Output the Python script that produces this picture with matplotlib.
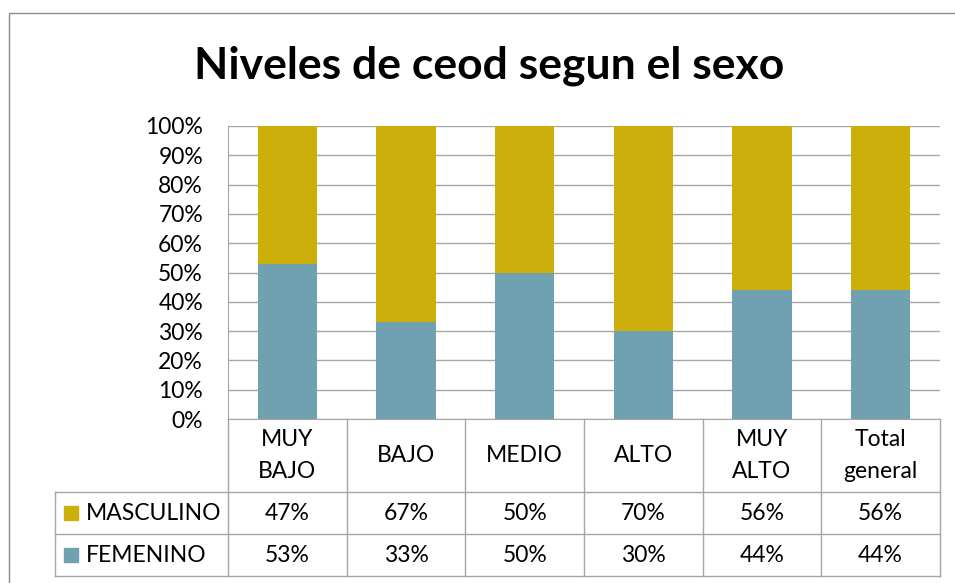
import matplotlib.pyplot as plt
from matplotlib.patches import Rectangle
from matplotlib.lines import Line2D
from matplotlib.transforms import blended_transform_factory

plt.rcParams['font.family'] = ['Lato', 'DejaVu Sans']

categories = ["MUY\nBAJO", "BAJO", "MEDIO", "ALTO", "MUY\nALTO", "Total\ngeneral"]
femenino = [53, 33, 50, 30, 44, 44]
masculino = [47, 67, 50, 70, 56, 56]
y_ticks = [0, 10, 20, 30, 40, 50, 60, 70, 80, 90, 100]

color_masc = "#CCAF0A"
color_fem = "#6FA1B0"
grid_color = "#A6A6A6"

W, H = 955, 583
fig = plt.figure(figsize=(W / 100, H / 100), dpi=100)

def fx(px):
    return px / W

def fy(py):
    return 1 - py / H

# chart frame
fig.add_artist(Rectangle((fx(9), fy(600)), fx(960), fy(13) - fy(600),
                         transform=fig.transFigure, fill=False, edgecolor="#8C8C8C", lw=1))

ax = fig.add_axes([fx(228), fy(419), fx(940) - fx(228), fy(126) - fy(419)])
x = range(len(categories))
ax.bar(x, femenino, width=0.5, color=color_fem, zorder=3)
ax.bar(x, masculino, width=0.5, bottom=femenino, color=color_masc, zorder=3)
ax.set_xlim(-0.5, len(categories) - 0.5)
ax.set_ylim(0, 100)
ax.set_yticks(y_ticks)
ax.set_yticklabels([f"{t}%" for t in y_ticks], fontsize=16.5)
ax.set_xticks([])
ax.tick_params(axis="y", length=0, pad=18)
ax.grid(axis="y", color=grid_color, lw=1, zorder=0)
for s in ["top", "right"]:
    ax.spines[s].set_visible(False)
ax.spines["left"].set_color(grid_color)
ax.spines["bottom"].set_color(grid_color)

fig.text(fx(489), fy(66), "Niveles de ceod segun el sexo", ha="center", va="center",
         fontsize=32, fontweight="bold")

# data table
tr = blended_transform_factory(ax.transData, fig.transFigure)
n = len(categories)
row_top, row1, row2, row3 = 419, 492, 534, 576
for i in range(n + 1):
    fig.add_artist(Line2D([i - 0.5, i - 0.5], [fy(row_top), fy(row3)], transform=tr,
                          color=grid_color, lw=1))
for yy in (row1, row2, row3):
    fig.add_artist(Line2D([fx(55), fx(940)], [fy(yy), fy(yy)], transform=fig.transFigure,
                          color=grid_color, lw=1))
fig.add_artist(Line2D([fx(55), fx(55)], [fy(row1), fy(row3)], transform=fig.transFigure,
                      color=grid_color, lw=1))

fs = 16.5
for i, cat in enumerate(categories):
    fig.text(i, fy((row_top + row1) / 2), cat, transform=tr, ha="center", va="center",
             fontsize=fs, linespacing=1.6)
    fig.text(i, fy((row1 + row2) / 2), f"{masculino[i]}%", transform=tr, ha="center",
             va="center", fontsize=fs)
    fig.text(i, fy((row2 + row3) / 2), f"{femenino[i]}%", transform=tr, ha="center",
             va="center", fontsize=fs)

for (name, col, top, bot) in [("MASCULINO", color_masc, row1, row2), ("FEMENINO", color_fem, row2, row3)]:
    yc = (top + bot) / 2
    fig.add_artist(Rectangle((fx(64), fy(yc + 7)), fx(14), fy(yc - 7) - fy(yc + 7),
                             transform=fig.transFigure, color=col))
    fig.text(fx(86), fy(yc), name, ha="left", va="center", fontsize=fs)

fig.savefig("out.png", dpi=100)
